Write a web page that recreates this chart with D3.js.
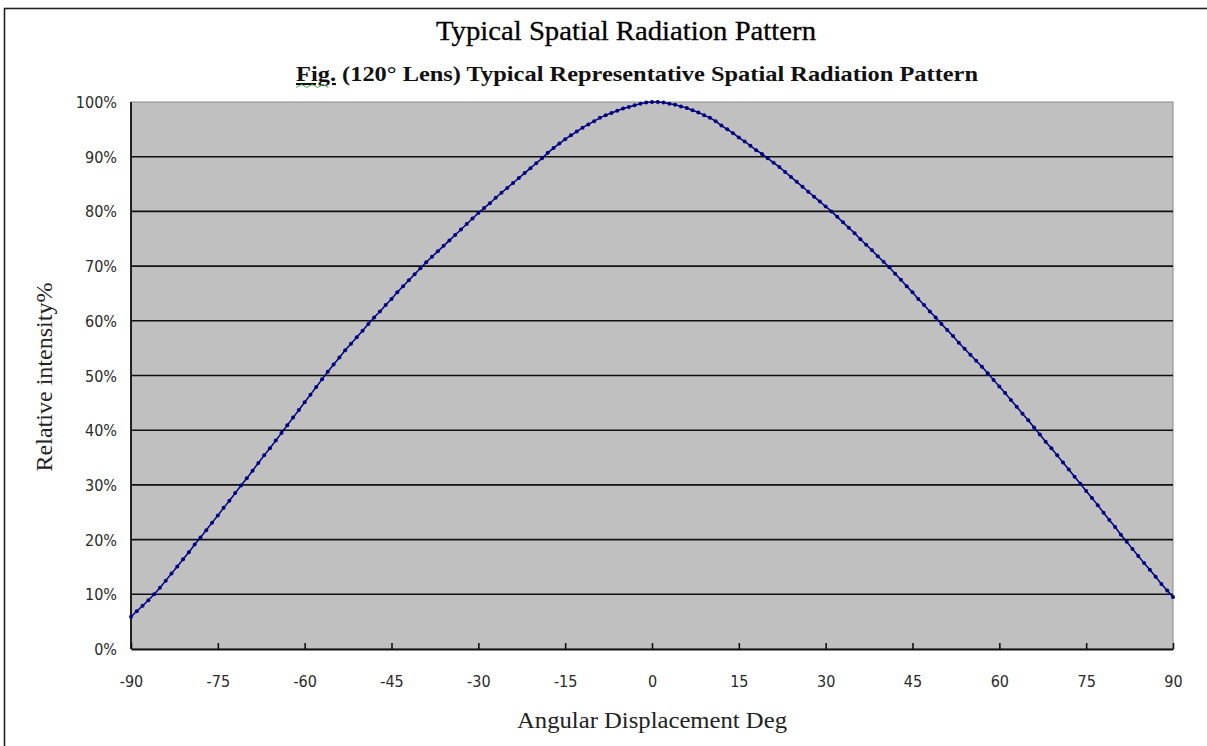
<!DOCTYPE html>
<html>
<head>
<meta charset="utf-8">
<script src="https://cdn.jsdelivr.net/npm/d3@7"></script>
<style>
  body { margin: 0; background: #fff; }
  svg { display: block; }
</style>
</head>
<body>
<div id="chart"></div>
<script>
// chart texts
const title = "Typical Spatial Radiation Pattern";
const subtitleLead = "Fig.";
const subtitleRest = " (120° Lens) Typical Representative Spatial Radiation Pattern";
const xTitle = "Angular Displacement Deg";
const yTitle = "Relative intensity%";

// axis ticks
const xTicks = [-90, -75, -60, -45, -30, -15, 0, 15, 30, 45, 60, 75, 90];
const yTicks = [0, 10, 20, 30, 40, 50, 60, 70, 80, 90, 100];

// angles -90..90, one per degree
const angles = d3.range(-90, 91);

// relative intensity (%)
const intensity = [
  5.9, 6.9, 7.9, 8.9, 10.0, 11.2, 12.5, 13.8, 15.1, 16.4,
  17.7, 19.1, 20.4, 21.7, 23.1, 24.4, 25.8, 27.1, 28.5, 29.9,
  31.2, 32.6, 34.0, 35.4, 36.7, 38.1, 39.5, 40.9, 42.3, 43.7,
  45.1, 46.5, 47.9, 49.3, 50.7, 52.0, 53.3, 54.6, 55.8, 57.0,
  58.2, 59.4, 60.6, 61.7, 62.9, 64.0, 65.2, 66.3, 67.4, 68.5,
  69.6, 70.7, 71.7, 72.7, 73.7, 74.7, 75.7, 76.7, 77.7, 78.7,
  79.7, 80.6, 81.5, 82.5, 83.4, 84.3, 85.2, 86.1, 87.0, 87.9,
  88.8, 89.7, 90.7, 91.6, 92.4, 93.2, 93.9, 94.6, 95.3, 95.9,
  96.5, 97.1, 97.6, 98.0, 98.4, 98.8, 99.1, 99.4, 99.7, 99.9,
  100.0,
  100.0, 99.9, 99.7, 99.5, 99.2, 98.9, 98.5, 98.1, 97.6, 97.1,
  96.5, 95.7, 95.0, 94.3, 93.5, 92.8, 92.0, 91.2, 90.5, 89.7,
  88.9, 88.1, 87.2, 86.3, 85.4, 84.5, 83.6, 82.7, 81.8, 80.9,
  80.0, 79.0, 78.0, 77.0, 76.0, 74.9, 73.9, 72.9, 71.8, 70.8,
  69.8, 68.6, 67.5, 66.3, 65.2, 64.0, 62.9, 61.7, 60.6, 59.4,
  58.3, 57.2, 56.0, 54.9, 53.8, 52.7, 51.6, 50.4, 49.2, 48.0,
  46.8, 45.5, 44.3, 43.0, 41.8, 40.5, 39.2, 37.9, 36.7, 35.4,
  34.1, 32.8, 31.5, 30.2, 28.9, 27.6, 26.3, 24.9, 23.6, 22.3,
  20.9, 19.6, 18.3, 17.0, 15.7, 14.5, 13.2, 11.9, 10.7, 9.5
];

const points = angles.map((a, i) => ({ angle: a, value: intensity[i] }));

// dimensions
const width = 1207, height = 746;
const margin = { top: 102, right: 34, bottom: 97, left: 131 };
const plotW = width - margin.left - margin.right;
const plotH = height - margin.top - margin.bottom;

const labelFont = "'DejaVu Sans Condensed', 'DejaVu Sans', sans-serif";
const serifFont = "'Liberation Serif', 'Times New Roman', serif";

const svg = d3.select("#chart")
  .append("svg")
  .attr("width", width)
  .attr("height", height);

svg.append("rect")
  .attr("width", width)
  .attr("height", height)
  .attr("fill", "#fff");

// outer chart frame (runs off the right and bottom of the picture)
svg.append("rect")
  .attr("x", 4.5)
  .attr("y", 8.5)
  .attr("width", width + 20)
  .attr("height", height + 20)
  .attr("fill", "none")
  .attr("stroke", "#222")
  .attr("stroke-width", 1.6);

const x = d3.scaleLinear().domain([-90, 90]).range([0, plotW]);
const y = d3.scaleLinear().domain([0, 100]).range([plotH, 0]);

const g = svg.append("g")
  .attr("transform", "translate(" + margin.left + "," + margin.top + ")");

// plot background
g.append("rect")
  .attr("width", plotW)
  .attr("height", plotH)
  .attr("fill", "#c0c0c0")
  .attr("stroke", "#8a8a8a")
  .attr("stroke-width", 1);

// gridlines
g.append("g")
  .selectAll("line")
  .data(yTicks.filter(t => t > 0 && t < 100))
  .enter()
  .append("line")
  .attr("x1", 0)
  .attr("x2", plotW)
  .attr("y1", d => y(d))
  .attr("y2", d => y(d))
  .attr("stroke", "#111")
  .attr("stroke-width", 1.6);

// y axis line + labels
g.append("line")
  .attr("x1", 0).attr("x2", 0)
  .attr("y1", 0).attr("y2", plotH)
  .attr("stroke", "#111")
  .attr("stroke-width", 1.8);

g.append("g")
  .selectAll("text")
  .data(yTicks)
  .enter()
  .append("text")
  .attr("x", -14)
  .attr("y", d => y(d) + 6)
  .attr("text-anchor", "end")
  .attr("font-family", labelFont)
  .attr("font-size", "16px")
  .attr("fill", "#2a2a2a")
  .text(d => d + "%");

// x axis: ticks pointing inward
const xAxis = d3.axisBottom(x)
  .tickValues(xTicks)
  .tickSizeInner(-6)
  .tickSizeOuter(0)
  .tickPadding(0)
  .tickFormat(d3.format("d"));

const xg = g.append("g")
  .attr("transform", "translate(0," + plotH + ")")
  .call(xAxis);

xg.select(".domain")
  .attr("stroke", "#111")
  .attr("stroke-width", 1.8);
xg.selectAll(".tick line")
  .attr("stroke", "#111")
  .attr("stroke-width", 1.6);
xg.selectAll(".tick text")
  .attr("y", 38)
  .attr("dy", 0)
  .attr("font-family", labelFont)
  .attr("font-size", "16px")
  .attr("fill", "#2a2a2a")
  .text(d => String(d).replace("\u2212", "-"));

// the curve
const line = d3.line()
  .x(d => x(d.angle))
  .y(d => y(d.value));

g.append("path")
  .datum(points)
  .attr("d", line)
  .attr("fill", "none")
  .attr("stroke", "#000080")
  .attr("stroke-width", 1.5);

g.append("g")
  .selectAll("circle")
  .data(points)
  .enter()
  .append("circle")
  .attr("cx", d => x(d.angle))
  .attr("cy", d => y(d.value))
  .attr("r", 2)
  .attr("fill", "#000080");

// titles
svg.append("text")
  .attr("x", 626)
  .attr("y", 40)
  .attr("text-anchor", "middle")
  .attr("font-family", serifFont)
  .attr("font-size", "28px")
  .attr("textLength", 380)
  .attr("lengthAdjust", "spacingAndGlyphs")
  .attr("fill", "#000")
  .attr("stroke", "#000")
  .attr("stroke-width", 0.3)
  .text(title);

const sub = svg.append("text")
  .attr("x", 296)
  .attr("y", 81)
  .attr("font-family", serifFont)
  .attr("font-size", "21px")
  .attr("font-weight", "bold")
  .attr("textLength", 682)
  .attr("lengthAdjust", "spacingAndGlyphs")
  .attr("fill", "#111");
sub.append("tspan")
  .attr("text-decoration", "underline")
  .text(subtitleLead);
sub.append("tspan")
  .text(subtitleRest);

// spell-check squiggle under "Fig."
const squiggle = d3.range(0, 7).map(i => [296 + i * 5.4, i % 2 ? 84.5 : 87.5]);
svg.append("path")
  .attr("d", d3.line()(squiggle))
  .attr("fill", "none")
  .attr("stroke", "#4caf50")
  .attr("stroke-width", 1);

svg.append("text")
  .attr("x", 652)
  .attr("y", 728)
  .attr("text-anchor", "middle")
  .attr("font-family", serifFont)
  .attr("font-size", "23px")
  .attr("textLength", 270)
  .attr("lengthAdjust", "spacingAndGlyphs")
  .attr("fill", "#222")
  .text(xTitle);

svg.append("text")
  .attr("transform", "translate(52,377) rotate(-90)")
  .attr("text-anchor", "middle")
  .attr("font-family", serifFont)
  .attr("font-size", "24px")
  .attr("textLength", 189)
  .attr("lengthAdjust", "spacingAndGlyphs")
  .attr("fill", "#222")
  .text(yTitle);
</script>
</body>
</html>
